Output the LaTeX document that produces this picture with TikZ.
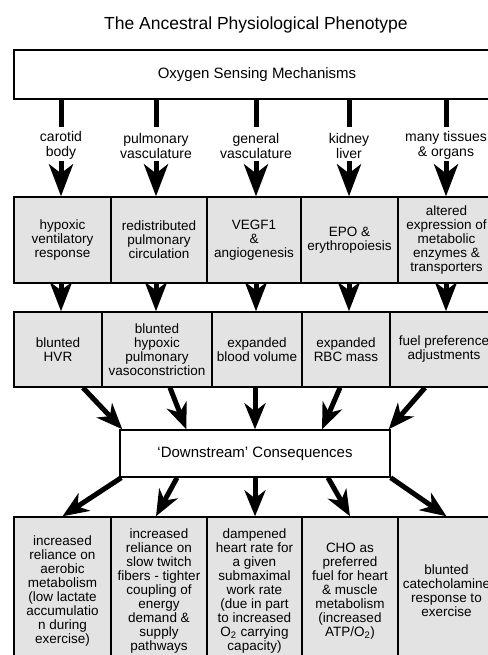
\documentclass[tikz,border=0pt]{standalone}
\usepackage{fontspec}
\setmainfont{Liberation Sans}
\usetikzlibrary{arrows.meta,calc}
\begin{document}
\begin{tikzpicture}[x=1pt,y=-1pt,
  box/.style={draw, line width=1.4pt, fill=black!11, align=center, inner sep=1pt, font=\fontsize{13.5}{14}\selectfont},
  wbox/.style={draw, line width=1.4pt, fill=white, align=center, inner sep=1pt, font=\fontsize{15}{17}\selectfont},
  lab/.style={align=center, inner sep=1pt, font=\fontsize{14}{15}\selectfont},
  bigarr/.style={line width=5pt, -{Stealth[length=32pt,width=24pt,inset=9pt]}},
  midarr/.style={line width=5pt, -{Stealth[length=29pt,width=22pt,inset=8pt]}},
  diarr/.style={line width=5pt, -{Stealth[length=26pt,width=21pt,inset=8pt]}},
  stem/.style={line width=5pt}
]
\useasboundingbox (0,0) rectangle (487,655);
\node[font=\fontsize{17.5}{20}\selectfont] (title) at (256,25) {The Ancestral Physiological Phenotype};
\node[wbox, minimum width=486pt, minimum height=49pt] (top) at (257,74.5) {Oxygen Sensing Mechanisms};
% labels
\node[lab] (l1) at (61,145.5) {carotid\\body};
\node[lab] (l2) at (156,145.5) {pulmonary\\vasculature};
\node[lab] (l3) at (256,145.5) {general\\vasculature};
\node[lab] (l4) at (349,145.5) {kidney\\liver};
\node[lab] (l5) at (446,145.5) {many tissues\\\& organs};
\coordinate (lb) at (0,161);
% row 1
\node[box, minimum width=97pt, minimum height=86pt] (r1a) at (62.5,240) {hypoxic\\ventilatory\\response};
\node[box, minimum width=96pt, minimum height=86pt] (r1b) at (159,240) {redistributed\\pulmonary\\circulation};
\node[box, minimum width=94pt, minimum height=86pt] (r1c) at (254,240) {VEGF1\\\&\\angiogenesis};
\node[box, minimum width=97pt, minimum height=86pt] (r1d) at (349.5,240) {EPO \&\\erythropoiesis};
\node[box, minimum width=97pt, minimum height=86pt] (r1e) at (446.5,240) {altered\\expression of\\metabolic\\enzymes \&\\transporters};
% row 2
\node[box, minimum width=88pt, minimum height=75pt] (r2a) at (58,349.5) {blunted\\HVR};
\node[box, minimum width=110pt, minimum height=75pt] (r2b) at (157,349.5) {blunted\\hypoxic\\pulmonary\\vasoconstriction};
\node[box, minimum width=90pt, minimum height=75pt] (r2c) at (257,349.5) {expanded\\blood volume};
\node[box, minimum width=88pt, minimum height=75pt] (r2d) at (346,349.5) {expanded\\RBC mass};
\node[box, minimum width=108pt, minimum height=75pt] (r2e) at (444,349.5) {fuel preference\\adjustments};
% downstream
\node[wbox, minimum width=270pt, minimum height=47pt] (ds) at (255,453.5) {`Downstream' Consequences};
% row 3
\node[box, minimum width=97pt, minimum height=148pt] (r3a) at (62.5,591) {increased\\reliance on\\aerobic\\metabolism\\(low lactate\\accumulatio\\n during\\exercise)};
\node[box, minimum width=96pt, minimum height=148pt] (r3b) at (159,591) {increased\\reliance on\\slow twitch\\fibers - tighter\\coupling of\\energy\\demand \&\\supply\\pathways};
\node[box, minimum width=95pt, minimum height=148pt] (r3c) at (254.5,591) {dampened\\heart rate for\\a given\\submaximal\\work rate\\(due in part\\to increased\\O\textsubscript{2} carrying\\capacity)};
\node[box, minimum width=96pt, minimum height=148pt] (r3d) at (350,591) {CHO as\\preferred\\fuel for heart\\\& muscle\\metabolism\\(increased\\ATP/O\textsubscript{2})};
\node[box, minimum width=97pt, minimum height=148pt] (r3e) at (446.5,591) {blunted\\catecholamine\\response to\\exercise};
% stems and arrows from sensing
\foreach \l/\r in {l1/r1a,l2/r1b,l3/r1c,l4/r1d,l5/r1e}{
  \draw[stem] (top.south -| \l) -- ++(0,27);
  \draw[bigarr] (\l |- lb) -- (\l |- \r.north);
}
% row1 to row2
\draw[midarr] (r1a.south -| l1) -- (r2a.north -| l1);
\draw[midarr] (r1b.south -| l2) -- (r2b.north -| l2);
\draw[midarr] (r1c.south -| l3) -- (r2c.north -| l3);
\draw[midarr] (r1d.south -| l4) -- (r2d.north -| l4);
\draw[midarr] (r1e.south -| l5) -- (r2e.north -| l5);
% row2 to downstream
\draw[diarr] ($(r2a.south)+(25,0)$) -- ($(ds.north west)+(3,0)$);
\draw[diarr] ($(r2b.south)+(13,0)$) -- ($(ds.north west)+(67,0)$);
\draw[diarr] ($(r2c.south)+(-2,0)$) -- (ds.north);
\draw[diarr] ($(r2d.south)+(-6,0)$) -- ($(ds.north)+(67,0)$);
\draw[diarr] ($(r2e.south)+(-19,0)$) -- ($(ds.north east)+(-2,0)$);
% downstream to row3
\draw[diarr] ($(ds.south west)+(2,0)$) -- (r3a.north);
\draw[diarr] ($(ds.south)+(-78,0)$) -- ($(r3b.north)+(-3,0)$);
\draw[diarr] (ds.south) -- (ds.south |- r3c.north);
\draw[diarr] ($(ds.south)+(73,0)$) -- (r3d.north);
\draw[diarr] (ds.south east) -- (r3e.north);
\end{tikzpicture}
\end{document}
